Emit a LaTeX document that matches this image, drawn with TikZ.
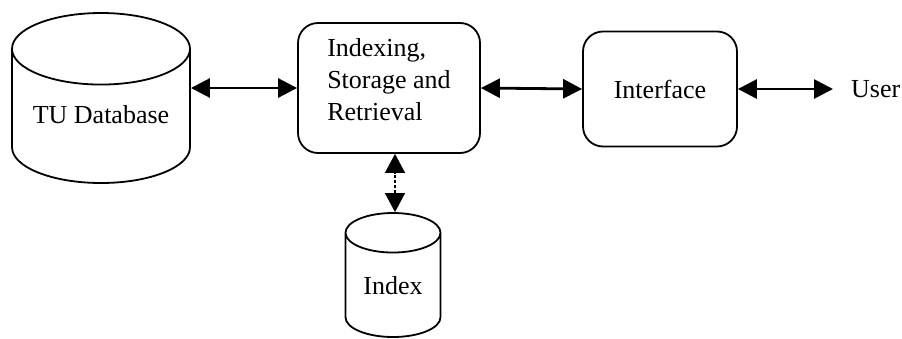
\documentclass[tikz,border=0pt]{standalone}
\usepackage{fontspec}
\setmainfont{Liberation Serif}
\usetikzlibrary{arrows.meta,positioning,shapes.geometric}

\begin{document}
\begin{tikzpicture}[
      x=1pt, y=-1pt,
      font=\fontsize{26}{32}\selectfont,
      box/.style={rounded corners=20pt, draw=black, line width=1.8pt, fill=white, align=left},
      store/.style={cylinder, shape border rotate=90, anchor=shape center, draw=black, line width=1.8pt, fill=white},
      arr/.style={{Triangle[length=19pt,width=19pt]}-{Triangle[length=19pt,width=19pt]}, line width=2.8pt, draw=black},
      thinarr/.style={{Triangle[length=19pt,width=20pt]}-{Triangle[length=19pt,width=20pt]}, line width=1.2pt, densely dashed, draw=black}
    ]
      \useasboundingbox (0,0) rectangle (902,338);
      % data stores
      \node[store, aspect=0.5, minimum width=178pt, minimum height=170pt, text depth=14pt] (tu) at (101,98) {TU Database};
      \node[store, aspect=0.6, minimum width=95pt, minimum height=124pt, text depth=6pt] (index) at (393,275) {Index};
      % processing boxes
      \node[box, minimum width=182pt, minimum height=130pt, text depth=18pt] (isr) at (389,88) {Indexing,\\Storage and\\Retrieval};
      \node[box, align=center, minimum width=154pt, minimum height=115pt] (iface) at (660,89) {Interface};
      \node[anchor=west, inner sep=0pt] (user) at (851,89) {User};
      % links
      \draw[arr] (tu.east |- isr.west) -- (isr.west);
      \draw[arr] (isr.east) -- (iface.west);
      \draw[arr] (iface.east) -- ([xshift=-18pt]user.west);
      \draw[thinarr] (index.north -| 395,0) -- (isr.south -| 395,0);
    \end{tikzpicture}
\end{document}
